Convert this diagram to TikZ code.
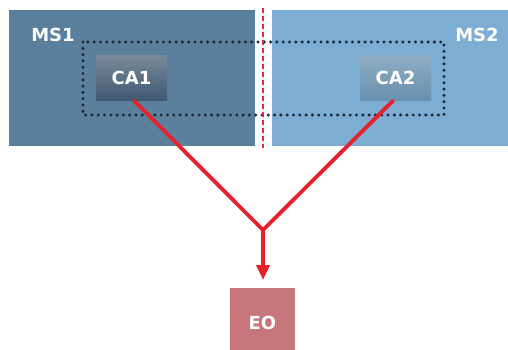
\documentclass[tikz,border=0pt]{standalone}
\usepackage{fontspec}
\setmainfont{DejaVu Sans}
\usetikzlibrary{arrows.meta}
\definecolor{msone}{HTML}{5B809D}
\definecolor{mstwo}{HTML}{7EADD3}
\definecolor{caone}{HTML}{3F5872}
\definecolor{catwo}{HTML}{6991AF}
\definecolor{eobox}{HTML}{C7777B}
\definecolor{linkred}{HTML}{E8202A}
\definecolor{borderred}{HTML}{E2283A}
\definecolor{dotgrey}{HTML}{1E2A36}
\begin{document}
\begin{tikzpicture}[x=1pt,y=-1pt,
  lbl/.style={text=white,font=\bfseries\fontsize{18}{20}\selectfont},
  cabox/.style={inner sep=0pt,minimum width=71pt,minimum height=45pt,text=white,font=\bfseries\fontsize{18}{20}\selectfont},
  link/.style={draw=linkred,line width=3.8pt},
]
\useasboundingbox (0,0) rectangle (508,349);
% member-state regions
\fill[msone] (9,10) rectangle (255,146);
\fill[mstwo] (272,10) rectangle (508,146);
\node[lbl] (ms1) at (53,35) {MS1};
\node[lbl] (ms2) at (477,35) {MS2};
% cross-border dotted grouping
\draw[draw=dotgrey,line width=3.4pt,line cap=round,dash pattern=on 0pt off 6.3pt] (83,42) rectangle (444,115);
% border line
\draw[draw=borderred,line width=1.2pt,dash pattern=on 5pt off 3pt] (263,8) -- (263,148);
% certification authorities
\node[cabox,top color=caone!70!white,bottom color=caone] (ca1) at (131.5,77.5) {CA1};
\node[cabox,top color=catwo!75!white,bottom color=catwo] (ca2) at (395.5,77.5) {CA2};
% end organisation
\node[inner sep=0pt,minimum width=65pt,minimum height=70pt,fill=eobox,text=white,font=\bfseries\fontsize{18}{20}\selectfont,anchor=north] (eo) at (262.5,288) {EO};
% links
\coordinate (join) at (263,230);
\draw[link,line join=miter] ([xshift=2pt]ca1.south) -- (join) -- ([xshift=-2pt]ca2.south);
\draw[link,-{Triangle[length=15pt,width=13pt]}] (join) -- (263,280);
\end{tikzpicture}
\end{document}
